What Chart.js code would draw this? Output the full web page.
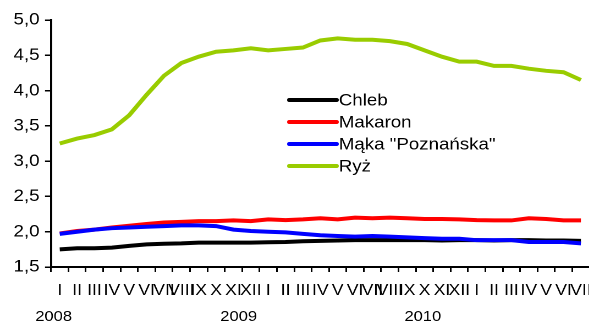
<!DOCTYPE html>
<html lang="pl">
<head>
<meta charset="UTF-8">
<title>Ceny</title>
<script src="https://cdn.jsdelivr.net/npm/chart.js@4.4.1/dist/chart.umd.min.js"></script>
<style>
    html, body { margin: 0; padding: 0; background: #fff; overflow: hidden; }
    /* the source picture is stretched sideways, so the whole chart is too */
    #wrap { width: 536px; height: 327px; transform: scaleX(1.1); transform-origin: 0 0; }
</style>
</head>
<body>
<div id="wrap"><canvas id="chart" width="536" height="327"></canvas></div>
<script>
    const months = ['I', 'II', 'III', 'IV', 'V', 'VI', 'VII', 'VIII', 'IX', 'X', 'XI', 'XII'];
    const labels = [...months, ...months, ...months.slice(0, 7)];
    const years = ['2008', '2009', '2010'];
    const yTicks = [1.5, 2.0, 2.5, 3.0, 3.5, 4.0, 4.5, 5.0];

    const chleb = [1.75, 1.765, 1.765, 1.775, 1.80, 1.82, 1.83, 1.835, 1.845, 1.845, 1.845, 1.845, 1.85, 1.855,
        1.865, 1.87, 1.875, 1.88, 1.88, 1.88, 1.88, 1.88, 1.875, 1.88, 1.88, 1.875, 1.88, 1.88, 1.875, 1.875, 1.87];
    const makaron = [1.975, 2.01, 2.03, 2.06, 2.085, 2.11, 2.13, 2.14, 2.15, 2.15, 2.16, 2.15, 2.175, 2.165,
        2.175, 2.19, 2.175, 2.2, 2.19, 2.2, 2.19, 2.18, 2.18, 2.175, 2.165, 2.16, 2.16, 2.19, 2.18, 2.16, 2.16];
    const maka = [1.97, 2.0, 2.03, 2.05, 2.06, 2.07, 2.08, 2.09, 2.09, 2.08, 2.03, 2.01, 2.0, 1.99,
        1.97, 1.95, 1.94, 1.93, 1.94, 1.93, 1.92, 1.91, 1.90, 1.90, 1.88, 1.88, 1.88, 1.855, 1.855, 1.855, 1.835];
    const ryz = [3.25, 3.32, 3.37, 3.45, 3.65, 3.94, 4.21, 4.39, 4.48, 4.55, 4.57, 4.60, 4.57, 4.59,
        4.61, 4.71, 4.74, 4.72, 4.72, 4.70, 4.66, 4.57, 4.48, 4.41, 4.41, 4.35, 4.35, 4.31, 4.28, 4.26, 4.15];

    const FONT = 'Liberation Sans, Arial, sans-serif';

    // legend drawn by hand, it sits inside the plot
    const legendPlugin = {
        id: 'innerLegend',
        afterDatasetsDraw(chart) {
            const ctx = chart.ctx;
            ctx.save();
            ctx.font = '17px ' + FONT;
            ctx.textBaseline = 'middle';
            ctx.fillStyle = '#000';
            chart.data.datasets.forEach(function (ds, i) {
                const y = 100 + i * 22;
                ctx.strokeStyle = ds.borderColor;
                ctx.lineWidth = 4;
                ctx.lineCap = 'round';
                ctx.beginPath();
                ctx.moveTo(263, y);
                ctx.lineTo(306, y);
                ctx.stroke();
                ctx.fillText(ds.label, 308, y + 1);
            });
            ctx.restore();
        }
    };

    // year captions under the month labels
    const yearPlugin = {
        id: 'years',
        afterDraw(chart) {
            const ctx = chart.ctx;
            const x = chart.scales.x;
            const at = [-0.35, 10.3, 20.9];
            ctx.save();
            ctx.font = '15px ' + FONT;
            ctx.fillStyle = '#000';
            ctx.textAlign = 'center';
            ctx.textBaseline = 'middle';
            years.forEach(function (y, i) {
                ctx.fillText(y, x.getPixelForValue(at[i]), 317);
            });
            ctx.restore();
        }
    };

    function line(label, data, color, order) {
        return {
            label: label,
            data: data,
            borderColor: color,
            backgroundColor: color,
            borderWidth: 4,
            pointRadius: 0,
            tension: 0,
            fill: false,
            order: order
        };
    }

    new Chart(document.getElementById('chart'), {
        type: 'line',
        data: {
            labels: labels,
            datasets: [
                line('Chleb', chleb, '#000000', 4),
                line('Makaron', makaron, '#ff0000', 3),
                line('Mąka "Poznańska"', maka, '#0000ff', 2),
                line('Ryż', ryz, '#99cc00', 1)
            ]
        },
        options: {
            responsive: false,
            animation: false,
            devicePixelRatio: 2,
            layout: { padding: { top: 20, right: 0, left: 0, bottom: 0 } },
            plugins: { legend: { display: false }, tooltip: { enabled: false } },
            scales: {
                x: {
                    offset: true,
                    grid: { offset: true, drawOnChartArea: false, tickLength: 5, color: '#000', lineWidth: 1.5 },
                    border: { color: '#000', width: 2 },
                    ticks: {
                        autoSkip: false, maxRotation: 0, minRotation: 0, padding: 9,
                        color: '#000', font: { family: FONT, size: 16 }
                    },
                    afterFit(scale) { scale.height = 60; scale.paddingLeft = 0; scale.paddingRight = 0; }
                },
                y: {
                    min: 1.5,
                    max: 5.0,
                    afterBuildTicks(scale) { scale.ticks = yTicks.map(v => ({ value: v })); },
                    grid: { drawOnChartArea: false, tickLength: 5.5, color: '#000', lineWidth: 1.5 },
                    border: { color: '#000', width: 2 },
                    ticks: {
                        padding: 5, color: '#000', font: { family: FONT, size: 17 },
                        callback: v => v.toFixed(1).replace('.', ',')
                    },
                    afterFit(scale) { scale.width = 46.4; }
                }
            }
        },
        plugins: [legendPlugin, yearPlugin]
    });
</script>
</body>
</html>
